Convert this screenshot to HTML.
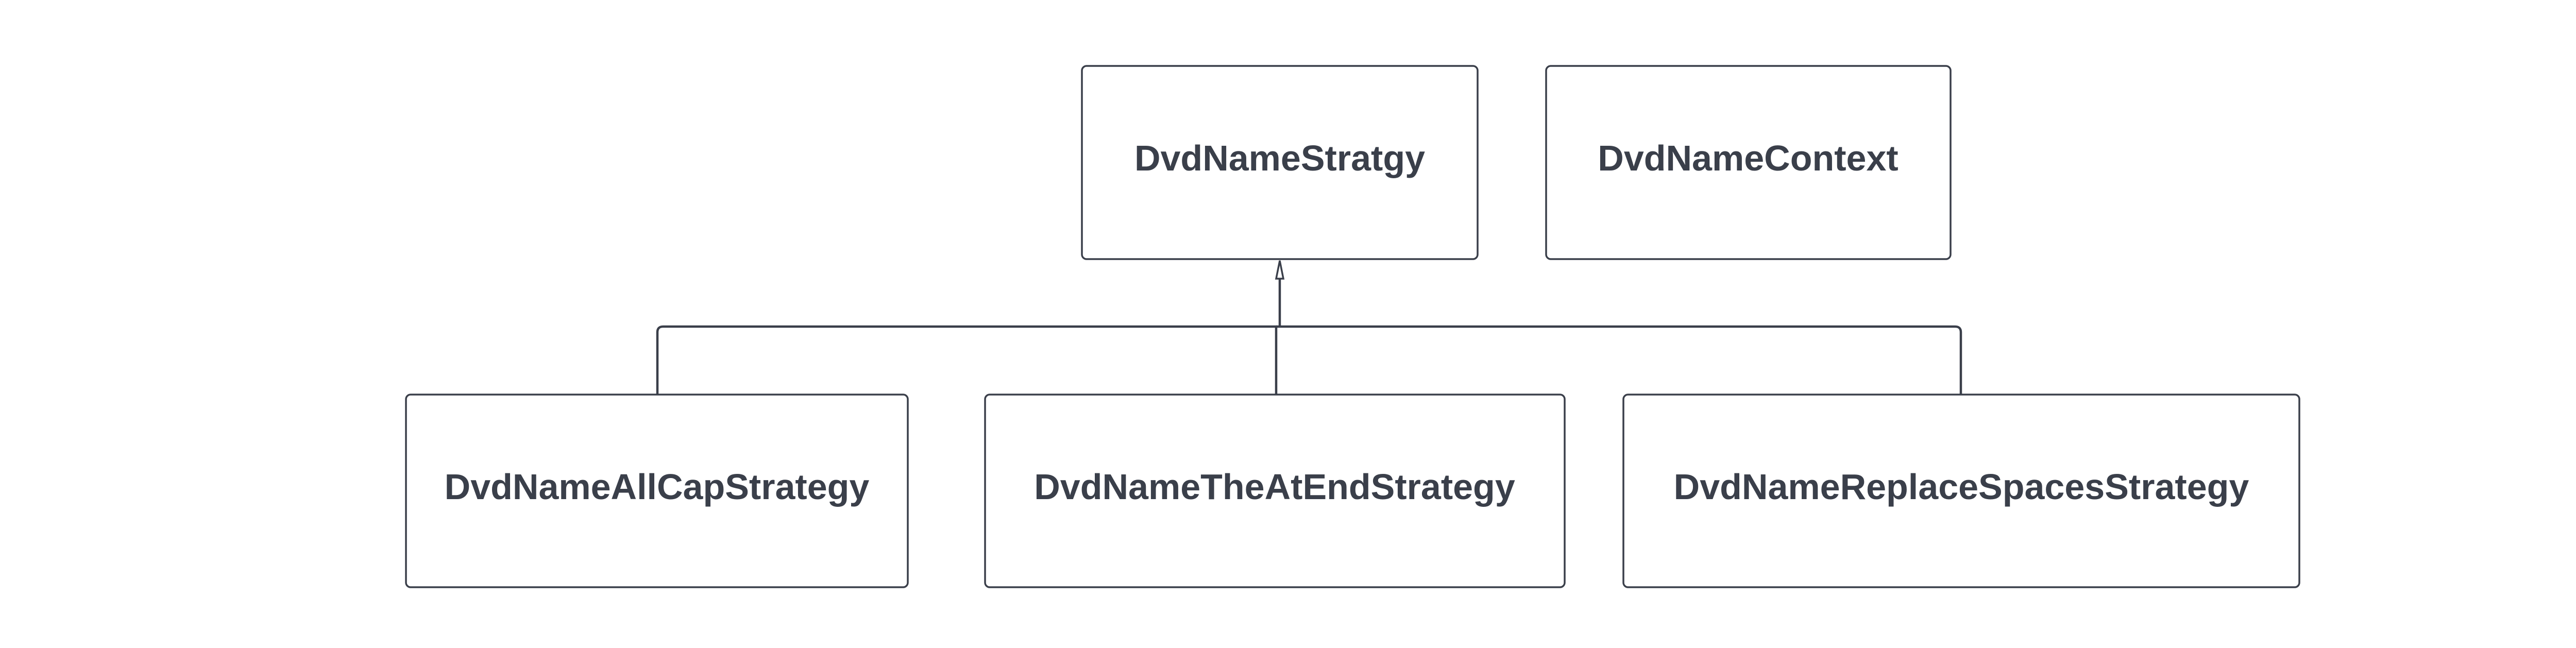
<!DOCTYPE html>
<html><head><meta charset="utf-8"><style>
html,body{margin:0;padding:0;background:#fff;}
svg{display:block;}
text{font-family:"Liberation Sans",sans-serif;font-weight:bold;font-size:70px;fill:#3a3f4a;}
</style></head><body>
<svg width="5250" height="1258" viewBox="0 0 5250 1258" xmlns="http://www.w3.org/2000/svg">
<g fill="#fff" stroke="#3a3f4a" stroke-width="3.5">
<rect x="2100" y="128" width="768" height="375" rx="9"/>
<rect x="3001" y="128" width="785" height="375" rx="9"/>
<rect x="788" y="766" width="974" height="374" rx="9"/>
<rect x="1912" y="766" width="1125" height="374" rx="9"/>
<rect x="3151" y="766" width="1312" height="374" rx="9"/>
</g>
<g fill="none" stroke="#3a3f4a" stroke-width="4.5">
<path d="M1276 766 V645 Q1276 634 1287 634 H2477 V766"/>
<path d="M2477 634 H3795 Q3806 634 3806 645 V766"/>
<path d="M2484 634 V540"/>
</g>
<path d="M2484 506 L2477 541 L2491 541 Z" fill="#fff" stroke="#3a3f4a" stroke-width="3.5"/>
<g text-anchor="middle" dominant-baseline="central">
<text x="2484" y="307">DvdNameStratgy</text>
<text x="3393" y="307">DvdNameContext</text>
<text x="1275" y="945">DvdNameAllCapStrategy</text>
<text x="2474" y="945">DvdNameTheAtEndStrategy</text>
<text x="3807" y="945">DvdNameReplaceSpacesStrategy</text>
</g>
</svg>
</body></html>
